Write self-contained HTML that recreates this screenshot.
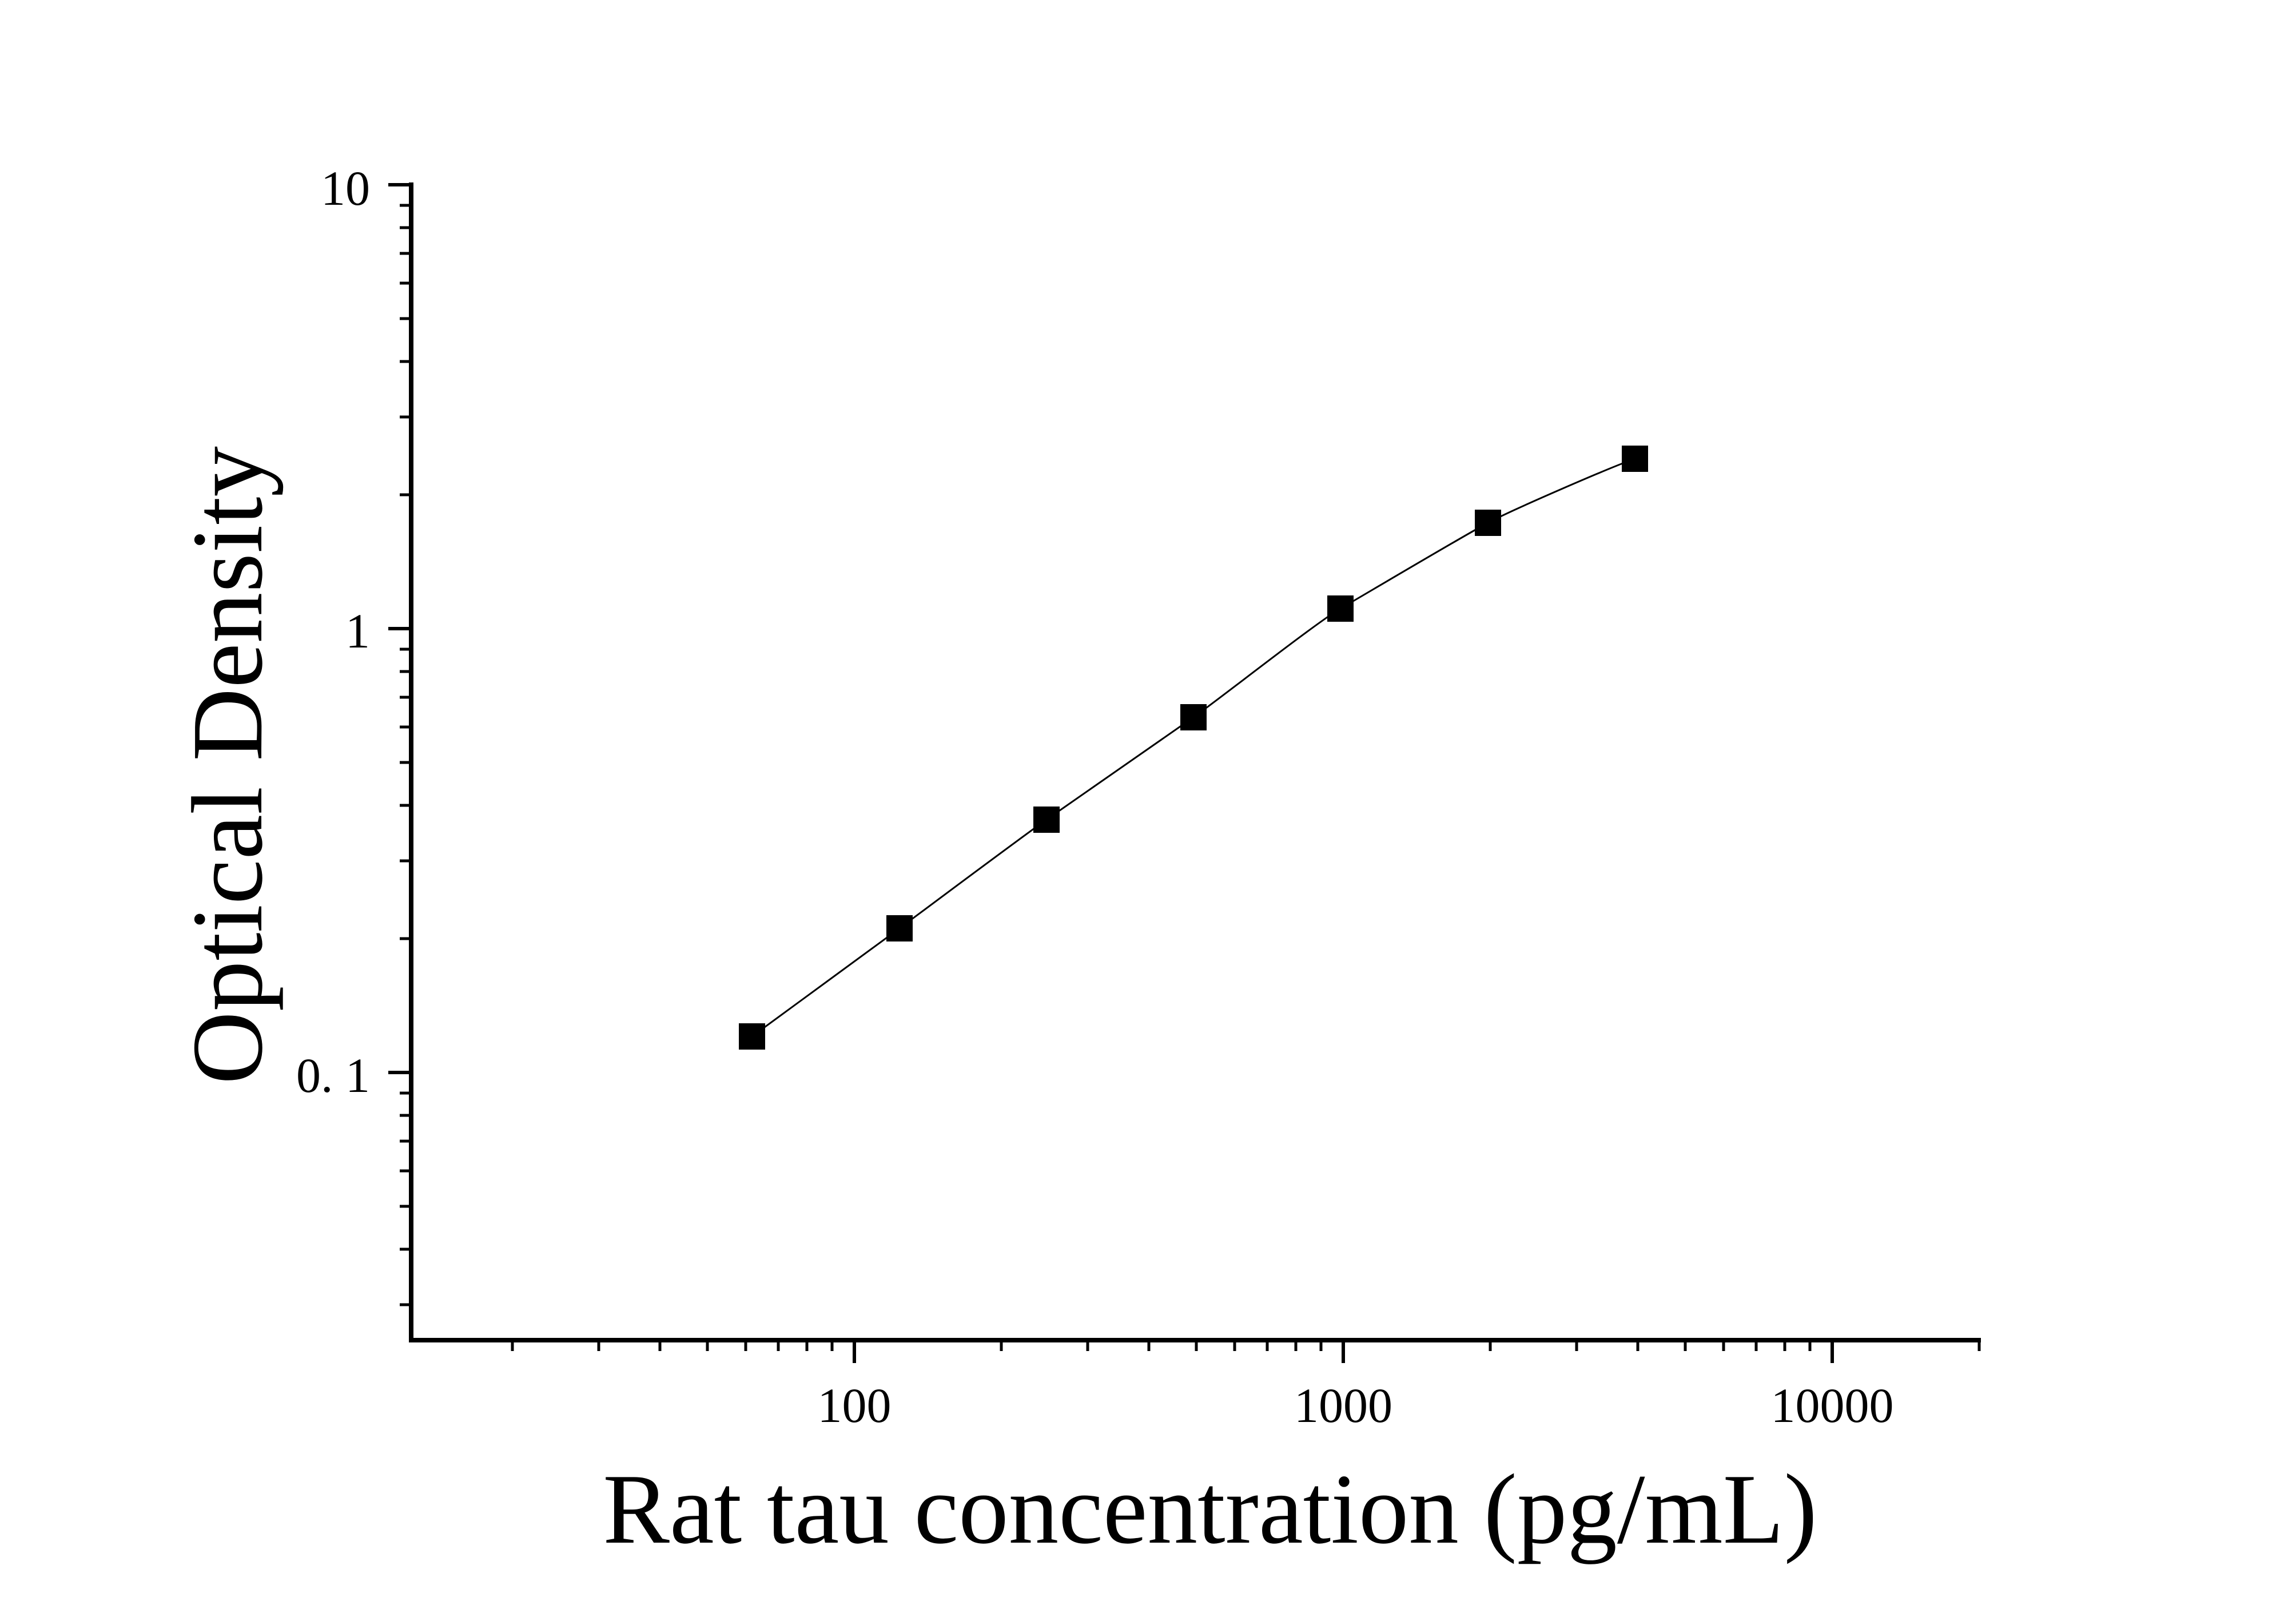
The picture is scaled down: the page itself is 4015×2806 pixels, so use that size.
<!DOCTYPE html>
<html><head><meta charset="utf-8"><style>html,body{margin:0;padding:0;background:#fff}svg{display:block}</style></head>
<body>
<svg width="4015" height="2806" viewBox="0 0 4015 2806" xmlns="http://www.w3.org/2000/svg" font-family="'Liberation Serif', serif">
<rect width="4015" height="2806" fill="#fff"/>
<g stroke="#000" fill="none">
<line x1="719" y1="319" x2="719" y2="2347" stroke-width="8"/>
<line x1="715" y1="2343" x2="3464" y2="2343" stroke-width="8"/>
<g stroke-width="6">
<line x1="679" y1="323" x2="719" y2="323"/>
<line x1="679" y1="1099" x2="719" y2="1099"/>
<line x1="679" y1="1875" x2="719" y2="1875"/>
<line x1="1494" y1="2343" x2="1494" y2="2383"/>
<line x1="2349" y1="2343" x2="2349" y2="2383"/>
<line x1="3204" y1="2343" x2="3204" y2="2383"/>
</g>
<g stroke-width="5">
<path d="M699 2281H719M699 2184H719M699 2109H719M699 2047H719M699 1995H719M699 1950H719M699 1911H719
M699 1641H719M699 1505H719M699 1408H719M699 1333H719M699 1271H719M699 1219H719M699 1174H719M699 1135H719
M699 865H719M699 729H719M699 632H719M699 557H719M699 495H719M699 443H719M699 398H719M699 359H719"/>
<path d="M896 2343V2362M1047 2343V2362M1154 2343V2362M1237 2343V2362M1304 2343V2362M1361 2343V2362M1411 2343V2362M1455 2343V2362
M1751 2343V2362M1902 2343V2362M2009 2343V2362M2092 2343V2362M2159 2343V2362M2216 2343V2362M2266 2343V2362M2310 2343V2362
M2606 2343V2362M2757 2343V2362M2864 2343V2362M2947 2343V2362M3014 2343V2362M3071 2343V2362M3121 2343V2362M3165 2343V2362
M3461 2343V2362"/>
</g>
<path stroke-width="3" d="M1315 1812 C1358 1780,1530 1655,1573 1623 C1616 1591,1787 1463,1830 1433 C1873 1403,2044 1284,2087 1254 C2130 1224,2301 1089,2344 1064 C2387 1039,2559 937,2602 914 C2645 891,2816 817,2859 802"/>
</g>
<g fill="#000">
<rect x="1292" y="1789" width="46" height="46"/>
<rect x="1550" y="1600" width="46" height="46"/>
<rect x="1807" y="1410" width="46" height="46"/>
<rect x="2064" y="1231" width="46" height="46"/>
<rect x="2321" y="1041" width="46" height="46"/>
<rect x="2579" y="891" width="46" height="46"/>
<rect x="2836" y="779" width="46" height="46"/>
</g>
<g font-size="86" fill="#000">
<text x="647" y="358" text-anchor="end">10</text>
<text x="647" y="1132" text-anchor="end">1</text>
<text x="647" y="1909" text-anchor="end">0. 1</text>
<text x="1494" y="2486" text-anchor="middle">100</text>
<text x="2349" y="2486" text-anchor="middle">1000</text>
<text x="3204" y="2486" text-anchor="middle">10000</text>
</g>
<text x="2116" y="2697" font-size="175" text-anchor="middle" fill="#000">Rat tau concentration (pg/mL)</text>
<text transform="translate(457,1338) rotate(-90)" x="0" y="0" font-size="177" text-anchor="middle" fill="#000">Optical Density</text>
</svg>
</body></html>
